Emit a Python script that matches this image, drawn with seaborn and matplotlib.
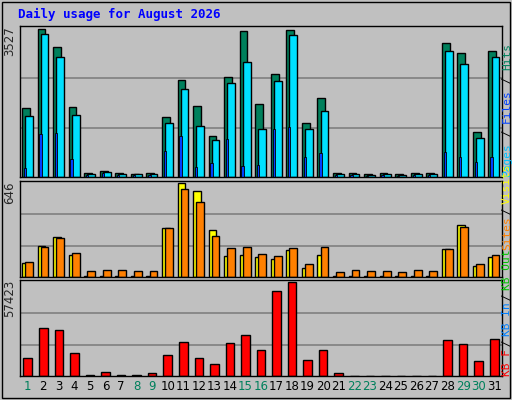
import numpy as np
import pandas as pd
import matplotlib
matplotlib.use("Agg")
import matplotlib.pyplot as plt
import seaborn as sns

days = list(range(1, 32))
hits = [1632, 3527, 3096, 1656, 96, 144, 96, 72, 96, 1440, 2304, 1680, 984, 2376, 3480, 1728,
        2448, 3504, 1296, 1872, 96, 96, 72, 96, 72, 96, 96, 3192, 2952, 1080, 3000]
files = [1464, 3407, 2856, 1488, 72, 120, 72, 72, 72, 1296, 2088, 1224, 888, 2232, 2736, 1152,
         2280, 3384, 1152, 1584, 72, 72, 48, 72, 48, 72, 72, 3000, 2688, 936, 2856]
pages = [216, 1032, 1056, 432, 48, 96, 48, 48, 48, 624, 984, 240, 336, 912, 264, 288,
         1152, 1200, 480, 576, 48, 48, 24, 48, 24, 48, 48, 600, 480, 360, 480]
visits = [98, 210, 274, 154, 7, 7, 7, 7, 7, 337, 646, 590, 323, 147, 154, 140,
          126, 182, 63, 154, 7, 7, 7, 7, 7, 7, 7, 189, 358, 77, 140]
sites = [105, 203, 267, 168, 42, 49, 49, 42, 42, 337, 604, 512, 281, 196, 203, 161,
         147, 196, 91, 203, 35, 49, 42, 42, 35, 49, 42, 189, 344, 91, 154]
kbytes = [11232, 29328, 28080, 13728, 500, 2500, 500, 500, 1872, 13104, 20592, 11232, 7488,
          19968, 24960, 15600, 51792, 57423, 9984, 15600, 1872, 300, 300, 300, 300, 300, 300,
          21840, 19344, 9360, 22464]
weekend = [1, 8, 9, 15, 16, 22, 23, 29, 30]

sns.set_style("white")
plt.rcParams['font.family'] = ['DejaVu Sans Mono', 'DejaVu Sans']
grey = "#C0C0C0"
fig = plt.figure(figsize=(5.12, 4.0), dpi=100, facecolor=grey)

W, L = 482 / 512, 20 / 512
ax1 = fig.add_axes([L, 1 - 177 / 400, W, 151 / 400])
ax2 = fig.add_axes([L, 1 - 277 / 400, W, 96 / 400])
ax3 = fig.add_axes([L, 1 - 376 / 400, W, 96 / 400])

x = np.array(days, dtype=float)
kw = dict(edgecolor="black", linewidth=1)
ax1.bar(x - 0.12, hits, width=0.5, color="#00805C", **kw)
ax1.bar(x + 0.08, files, width=0.5, color="#00E0FF", **kw)
ax1.bar(x - 0.18, pages, width=0.15, color="#0040FF", edgecolor="black", linewidth=0.6)
ax2.bar(x - 0.12, visits, width=0.5, color="#FFFF00", **kw)
ax2.bar(x + 0.08, sites, width=0.5, color="#FF8000", **kw)
df = pd.DataFrame({"day": days, "kb": kbytes})
sns.barplot(data=df, x="day", y="kb", ax=ax3, color="#FF0000", saturation=1,
            width=0.55, edgecolor="black", linewidth=1, native_scale=True)

for ax, mx in [(ax1, max(hits)), (ax2, max(visits)), (ax3, max(kbytes))]:
    ax.set_facecolor(grey)
    ax.set_xlim(0.5, 31.5)
    ax.set_ylim(0, mx * 1.02)
    for f in (1 / 3, 2 / 3):
        ax.axhline(mx * f, color="#808080", lw=1.2, zorder=0)
    ax.set_yticks([])
    ax.set_xticks([])
    ax.set_xlabel("")
    ax.set_ylabel("")
    for sp in ax.spines.values():
        sp.set_color("black")
        sp.set_linewidth(1)
    ax.text(-0.022, 1.0, str(mx), transform=ax.transAxes, rotation=90,
            ha="center", va="top", fontsize=8.5, family="DejaVu Sans")

ax3.set_xticks(days)
ax3.set_xticklabels([str(d) for d in days], fontsize=8.5, family="DejaVu Sans")
ax3.tick_params(axis="x", length=0, pad=3)
for lbl, d in zip(ax3.get_xticklabels(), days):
    lbl.set_color("#00805C" if d in weekend else "black")

fig.text(18 / 512, 1 - 14 / 400, "Daily usage for August 2026", color="#0000FF",
         fontsize=9, fontweight="bold", va="center")

def side(parts, ybottom_px, step=6.6):
    y = ybottom_px
    for s, c in parts:
        fig.text(507 / 512, 1 - y / 400, s, color=c, rotation=90, ha="center",
                 va="bottom", fontsize=8)
        y -= len(s) * step

side([("Pages", "#00C0FF"), (" / ", "black"), ("Files", "#0040FF"), (" / ", "black"),
      ("Hits", "#00805C")], 176)
side([("KB F", "#FF0000"), (" / ", "black"), ("KB In", "#0080FF"), (" / ", "black"),
      ("KB Out", "#00C000"), (" ", "black"), ("Sites", "#FF8000"), (" / ", "black"),
      ("Visits", "#FFFF00")], 376, step=5.75)

fig.patches.append(plt.Rectangle((0.004, 0.004), 0.992, 0.992, transform=fig.transFigure,
                                 fill=False, edgecolor="black", lw=1))
fig.savefig("out.png", dpi=100, facecolor=grey)
